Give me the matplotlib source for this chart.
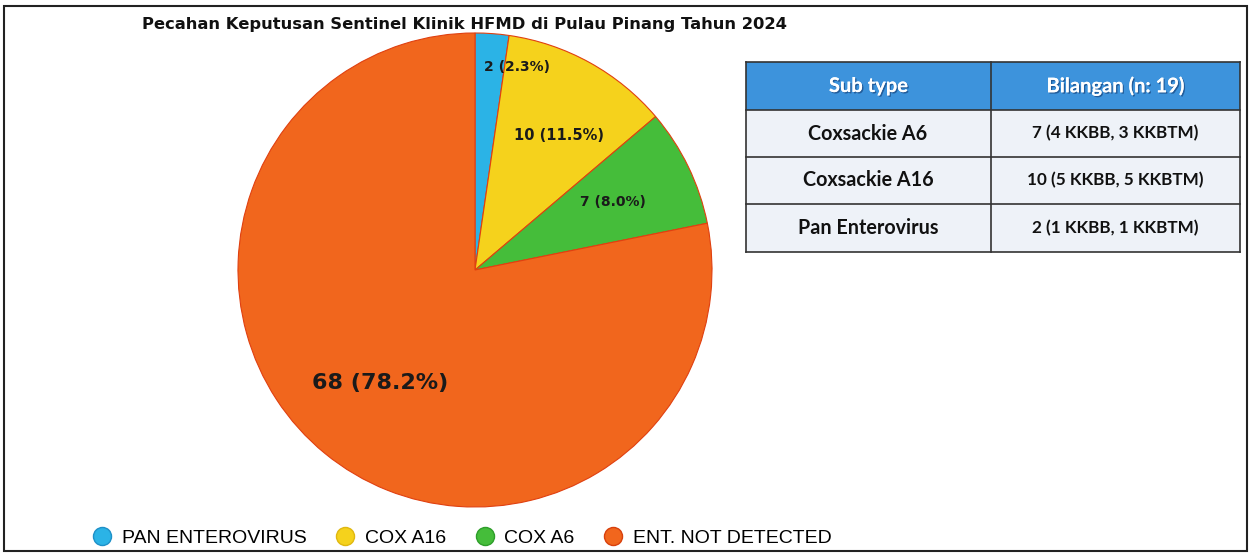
import numpy as np
import matplotlib.pyplot as plt
from matplotlib.patches import Rectangle
import matplotlib.patheffects as pe

W, H = 1251, 554

# pie data
labels = ["PAN ENTEROVIRUS", "COX A16", "COX A6", "ENT. NOT DETECTED"]
counts = [2, 10, 7, 68]
pcts = ["2.3%", "11.5%", "8.0%", "78.2%"]
colors = ["#2bb3e6", "#f5d21c", "#45bd3a", "#f1661d"]
edge_colors = ["#1e90c8", "#e0b810", "#2e9e2a", "#d8400c"]

# table data
tbl_header = ["Sub type", "Bilangan (n: 19)"]
tbl_subtype = ["Coxsackie A6", "Coxsackie A16", "Pan Enterovirus"]
tbl_count = ["7 (4 KKBB, 3 KKBTM)", "10 (5 KKBB, 5 KKBTM)", "2 (1 KKBB, 1 KKBTM)"]

title = "Pecahan Keputusan Sentinel Klinik HFMD di Pulau Pinang Tahun 2024"


def px_axes(fig, x0, y0, x1, y1):
    # pixel box (top-left origin) -> figure axes
    return fig.add_axes([x0 / W, 1 - y1 / H, (x1 - x0) / W, (y1 - y0) / H])


fig = plt.figure(figsize=(W / 100, H / 100), dpi=100)

# outer frame
frame = fig.add_axes([0, 0, 1, 1])
frame.set_xlim(0, W)
frame.set_ylim(H, 0)
frame.axis("off")
frame.add_patch(Rectangle((4, 6), 1243, 545, fill=False, lw=1.5, ec="#222222"))

# pie
ax = px_axes(fig, 238, 33, 712, 507)
wedges, _ = ax.pie(counts, colors=colors, startangle=90, counterclock=False,
                   radius=1.0, wedgeprops=dict(lw=0.8, ec="#e04010"))
ax.set_xlim(-1, 1)
ax.set_ylim(-1, 1)
ax.set_aspect("equal")
label_r = [0.875, 0.67, 0.65, 0.62]
label_shift = [-7.5, -3.0, 0.5, -0.7]
label_size = [10, 10.5, 10, 16]
for w, n, p, r, d, s in zip(wedges, counts, pcts, label_r, label_shift, label_size):
    ang = np.deg2rad((w.theta1 + w.theta2) / 2 + d)
    ax.text(r * np.cos(ang), r * np.sin(ang), f"{n} ({p})", ha="center", va="center",
            fontsize=s, fontweight="bold", color="#1a1a1a", family="DejaVu Sans")

fig.text(464 / W, 1 - 25 / H, title, ha="center", va="center", fontsize=11.8,
         fontweight="bold", color="#111111", family="DejaVu Sans")

# table
tx = px_axes(fig, 746, 62, 1240, 252)
tx.set_xlim(0, 494)
tx.set_ylim(190, 0)
tx.axis("off")
col_x = [0, 245, 494]
row_y = [0, 48, 95, 142, 190]
tx.add_patch(Rectangle((0, 0), 494, 48, fc="#3d93dc", ec="none"))
for i in range(3):
    tx.add_patch(Rectangle((0, row_y[i + 1]), 494, row_y[i + 2] - row_y[i + 1],
                           fc="#eef2f8", ec="none"))
for y in row_y:
    tx.plot([0, 494], [y, y], color="#333333", lw=1.2, clip_on=False)
for x in col_x:
    tx.plot([x, x], [0, 190], color="#333333", lw=1.2, clip_on=False)
shadow = [pe.withSimplePatchShadow(offset=(1, -1), shadow_rgbFace="#1c4f8a", alpha=0.8), pe.Normal()]
for j, htxt in enumerate(tbl_header):
    tx.text((col_x[j] + col_x[j + 1]) / 2, 24, htxt, ha="center", va="center",
            fontsize=14.5, fontweight="bold", color="white", family="Lato", path_effects=shadow)
for i in range(3):
    yc = (row_y[i + 1] + row_y[i + 2]) / 2
    tx.text(col_x[0] + 122, yc, tbl_subtype[i], ha="center", va="center",
            fontsize=14.2, color="#111111", family="Lato", fontweight="bold")
    tx.text(col_x[1] + 124, yc, tbl_count[i], ha="center", va="center",
            fontsize=12.3, color="#111111", family="Lato", fontweight="bold")

# legend
handles = [plt.Line2D([], [], marker="o", ls="", ms=13, mfc=c, mec=e, mew=1)
           for c, e in zip(colors, edge_colors)]
fig.legend(handles, labels, loc="center", bbox_to_anchor=(460 / W, 1 - 538 / H), ncol=4,
           frameon=False, handletextpad=0.3, columnspacing=1.3, handlelength=1.4,
           prop=dict(family="Liberation Sans", size=14))

fig.savefig("out.png", dpi=100)
